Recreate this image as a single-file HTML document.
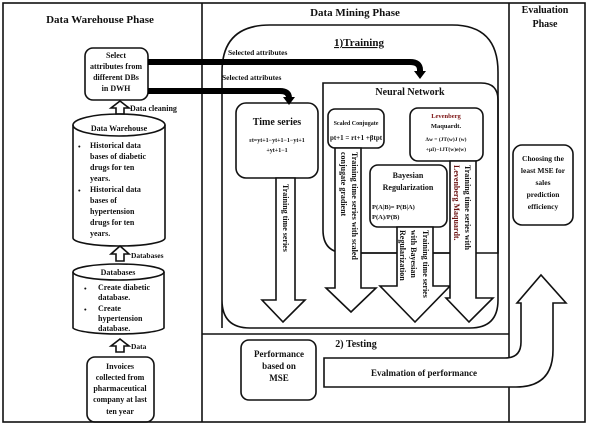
<!DOCTYPE html>
<html><head><meta charset="utf-8"><style>
html,body{margin:0;padding:0;background:#fff;width:589px;height:427px;overflow:hidden}
svg{display:block}
text{font-family:"Liberation Serif",serif;font-weight:bold;fill:#111}
</style></head><body>
<svg width="589" height="427" viewBox="0 0 589 427" xmlns="http://www.w3.org/2000/svg">
<g fill="none" stroke="#111" stroke-width="1.6">
<rect x="3" y="3" width="582" height="419"/>
<line x1="202" y1="3" x2="202" y2="422"/>
<line x1="509" y1="3" x2="509" y2="422"/>
<line x1="202" y1="334" x2="509" y2="334"/>
<path d="M222,328 L222,72 Q222,25 270,25 L452,25 Q498,25 498,72 L498,300 Q498,328 470,328 L250,328 Q222,328 222,300 Z"/>
<rect x="85" y="48" width="63" height="52" rx="8"/>
<path d="M73,125 L73,238 A46,8 0 0 0 165,238 L165,125"/>
<ellipse cx="119" cy="125" rx="46" ry="11"/>
<path d="M73,272 L73,328 A46,7 0 0 0 164,328 L164,272"/>
<ellipse cx="118.5" cy="272" rx="45.5" ry="8"/>
<rect x="87" y="357" width="67" height="65" rx="8"/>
<path d="M116,114 L116,108 L111,108 L120,101 L129,108 L124,108 L124,114 Z"/>
<path d="M116,261 L116,254 L111,254 L120,246 L129,254 L124,254 L124,261 Z"/>
<path d="M116,352 L116,346 L111,346 L120,339 L129,346 L124,346 L124,352 Z"/>
<path d="M323,83 L481,83 Q498,83 498,100 L498,253 L346,253 Q323,253 323,230 Z"/>
<rect x="236" y="103" width="82" height="75" rx="10"/>
<rect x="328" y="109" width="56" height="39" rx="7"/>
<rect x="410" y="108" width="73" height="53" rx="8"/>
<rect x="370" y="165" width="77" height="62" rx="8"/>
<path d="M276,178 L276,300 L262,300 L283,322 L305,300 L295,300 L295,178 Z" fill="#fff"/>
<path d="M335,148 L335,288 L326,288 L351,312 L376,288 L361,288 L361,148 Z" fill="#fff"/>
<path d="M397,227 L397,286 L380,286 L415,322 L450,286 L433,286 L433,227 Z" fill="#fff"/>
<path d="M450,161 L450,298 L446,298 L469,322 L493,298 L476,298 L476,161 Z" fill="#fff"/>
<line x1="361" y1="253" x2="397" y2="253"/><line x1="433" y1="253" x2="450" y2="253"/>
<rect x="241" y="340" width="75" height="60" rx="8"/>
<path d="M324,358 L505,358 Q521,358 521,342 L521,303 L517,303 L541,275 L566,303 L553,303 L553,350 Q553,387 516,387 L324,387 Z" fill="#fff"/>
<rect x="513" y="145" width="60" height="80" rx="9"/>
</g>
<g fill="none" stroke="#000" stroke-width="6">
<path d="M148,62 L410,62 Q420,62 420,70 L420,72"/>
<path d="M148,91 L280,91 Q289,91 289,98"/>
</g>
<path d="M414,71 L426,71 L420,79 Z" fill="#000"/>
<path d="M283,97 L295,97 L289,105 Z" fill="#000"/>
<g text-anchor="middle">
<text x="100" y="23" font-size="11">Data Warehouse Phase</text>
<text x="355" y="16" font-size="11">Data Mining  Phase</text>
<text x="545" y="13" font-size="10">Evaluation</text>
<text x="545" y="27" font-size="10">Phase</text>
<text x="359" y="46" font-size="11" text-decoration="underline">1)Training</text>
<text x="116" y="58" font-size="8">Select</text>
<text x="116" y="69" font-size="8">attributes from</text>
<text x="116" y="80" font-size="8">different DBs</text>
<text x="116" y="91" font-size="8">in DWH</text>
<text x="119" y="131" font-size="8">Data Warehouse</text>
<text x="118" y="275" font-size="8">Databases</text>
<text x="120" y="369" font-size="8">Invoices</text>
<text x="120" y="380" font-size="8">collected from</text>
<text x="120" y="391" font-size="8">pharmaceutical</text>
<text x="120" y="402" font-size="8">company at last</text>
<text x="120" y="414" font-size="8">ten year</text>
<text x="277" y="125" font-size="10">Time series</text>
<text x="277" y="142" font-size="6">ɛt=yt+1−yt+1−1−yt+1</text>
<text x="277" y="152" font-size="6">+yt+1−1</text>
<text x="410" y="95" font-size="10">Neural Network</text>
<text x="356" y="125" font-size="6" font-weight="normal">Scaled Conjugate</text>
<text x="356" y="140" font-size="7">pt+1 = rt+1 +βtpt</text>
<text x="446" y="118" font-size="6.5" style="fill:#7a1010">Levenberg</text>
<text x="446" y="128" font-size="6.5">Maquardt.</text>
<text x="446" y="141" font-size="5.5" font-weight="normal">Δw = (JT(w)J (w)</text>
<text x="446" y="151" font-size="5.5" font-weight="normal">+μI)−1JT(w)e(w)</text>
<text x="408" y="178" font-size="8">Bayesian</text>
<text x="408" y="190" font-size="8">Regularization</text>
<text x="356" y="347" font-size="10">2) Testing</text>
<text x="279" y="357" font-size="9">Performance</text>
<text x="279" y="369" font-size="9">based on</text>
<text x="279" y="381" font-size="9">MSE</text>
<text x="424" y="376" font-size="9">Evalmation of performance</text>
<text x="543" y="161" font-size="7.5">Choosing the</text>
<text x="543" y="173" font-size="7.5">least MSE for</text>
<text x="543" y="185" font-size="7.5">sales</text>
<text x="543" y="197" font-size="7.5">prediction</text>
<text x="543" y="209" font-size="7.5">efficiency</text>
</g>
<g font-size="7.5">
<text x="130" y="111" font-size="8">Data cleaning</text>
<text x="131" y="258">Databases</text>
<text x="131" y="349">Data</text>
<text x="228" y="55">Selected attributes</text>
<text x="222" y="80">Selected attributes</text>
<text x="372" y="209" font-size="6.5" font-weight="normal">P(A|B)= P(B|A)</text>
<text x="372" y="219" font-size="6.5" font-weight="normal">P(A)/P(B)</text>
</g>
<g font-size="7.5">
<text x="78" y="149">•</text><text x="90" y="148" font-size="8">Historical data</text>
<text x="90" y="159" font-size="8">bases of diabetic</text>
<text x="90" y="170" font-size="8">drugs for ten</text>
<text x="90" y="181" font-size="8">years.</text>
<text x="78" y="193">•</text><text x="90" y="192" font-size="8">Historical data</text>
<text x="90" y="203" font-size="8">bases of</text>
<text x="90" y="214" font-size="8">hypertension</text>
<text x="90" y="225" font-size="8">drugs for ten</text>
<text x="90" y="236" font-size="8">years.</text>
<text x="84" y="291">•</text><text x="98" y="290" font-size="8">Create diabetic</text>
<text x="98" y="300" font-size="8">database.</text>
<text x="84" y="312">•</text><text x="98" y="311" font-size="8">Create</text>
<text x="98" y="321" font-size="8">hypertension</text>
<text x="98" y="331" font-size="8">database.</text>
</g>
<g font-size="8">
<text transform="translate(283,184) rotate(90)">Training time series</text>
<text transform="translate(352,152) rotate(90)">Training time series with scaled</text>
<text transform="translate(341,152) rotate(90)">conjugate gradient</text>
<text transform="translate(423,230) rotate(90)">Training time series</text>
<text transform="translate(411,230) rotate(90)">with Bayesian</text>
<text transform="translate(400,230) rotate(90)">Regularization</text>
<text transform="translate(465,165) rotate(90)">Training time series with</text>
<text transform="translate(454,165) rotate(90)" style="fill:#6a1010">Levenberg Maquardt.</text>
</g>
</svg>
</body></html>
